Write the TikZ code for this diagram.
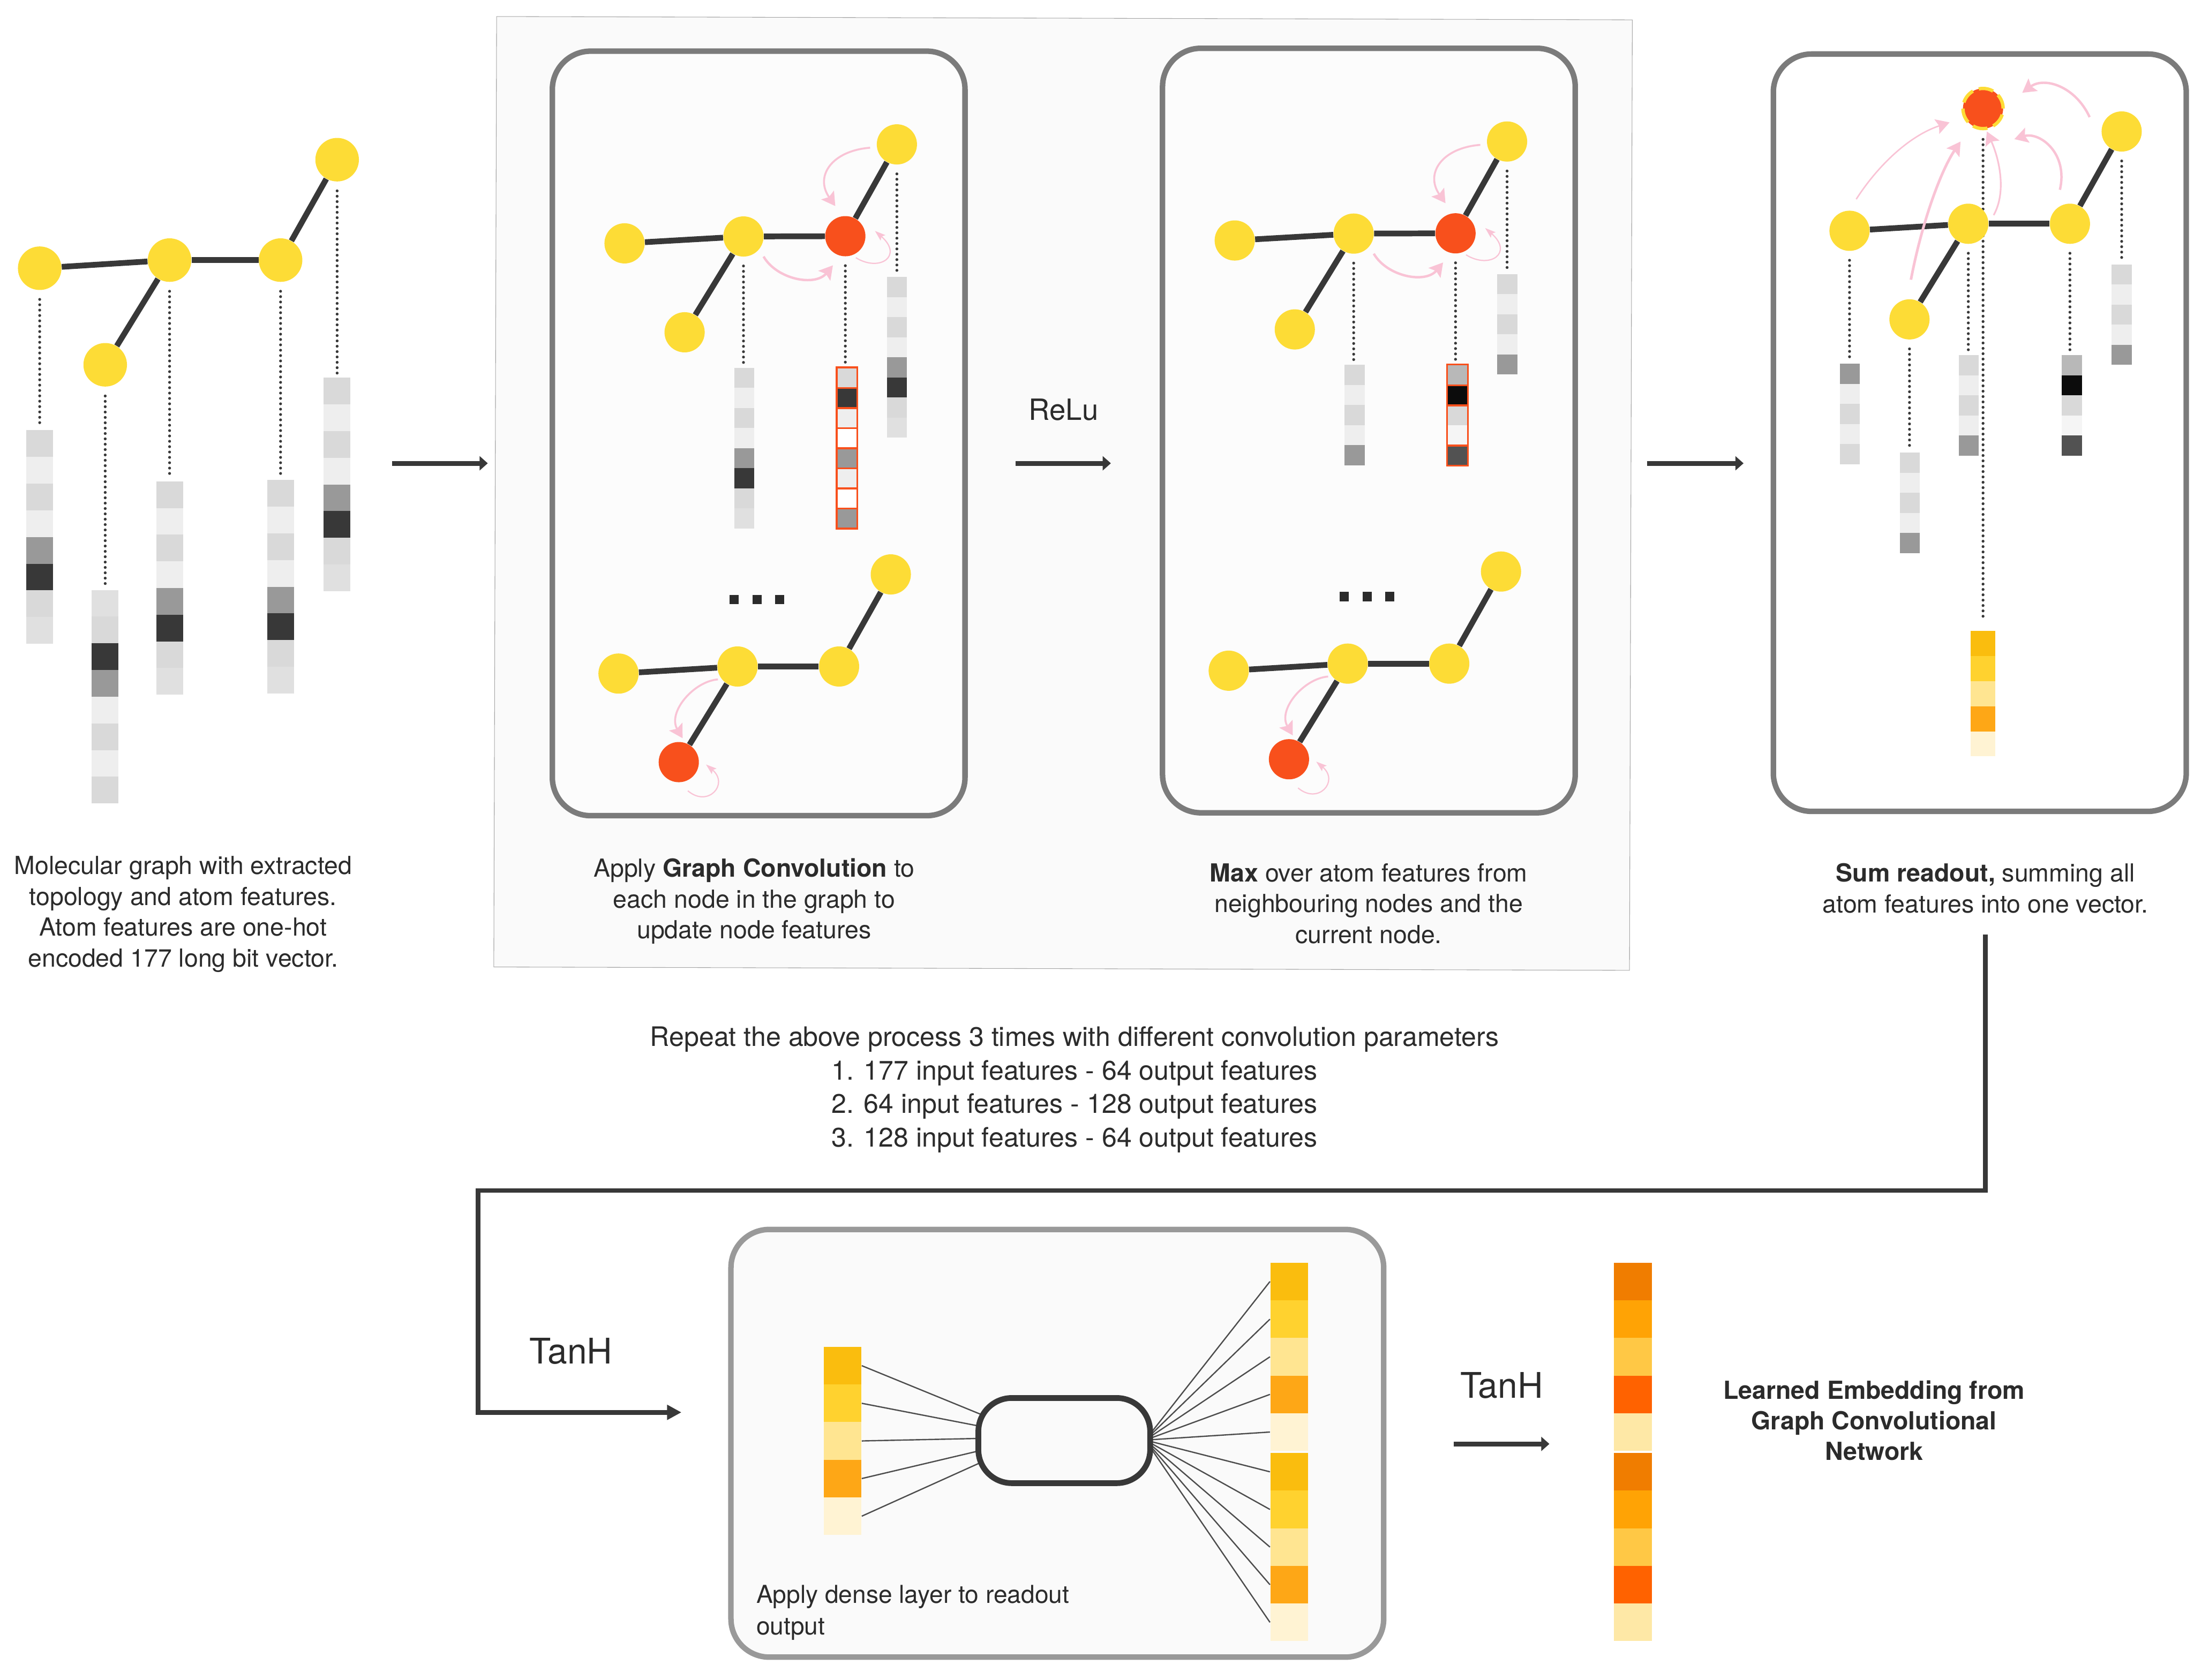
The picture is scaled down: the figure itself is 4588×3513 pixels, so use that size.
\documentclass[tikz,border=0pt]{standalone}
\usepackage{fontspec}
\setmainfont{TeX Gyre Heros}
\usetikzlibrary{arrows.meta,positioning,calc}
\definecolor{sunyellow}{HTML}{FDDC36}
\definecolor{hotred}{HTML}{F8501C}
\definecolor{bondgrey}{HTML}{383838}
\definecolor{inkgrey}{HTML}{2B2B2B}
\definecolor{linkpink}{HTML}{F9C3D5}
\definecolor{boxgrey}{HTML}{7B7B7B}
\definecolor{densegrey}{HTML}{999999}
\tikzset{
  atom/.style={circle, fill=#1, inner sep=0pt, minimum size=0.84cm},
  bond/.style={line width=0.12cm, draw=bondgrey},
  dots/.style={line width=0.06cm, draw=bondgrey, line cap=round, dash pattern=on 0pt off 0.112cm,
               shorten <=0.19cm, shorten >=0.06cm},
  msg/.style={draw=linkpink, line width=#1, -{Stealth[length=0.28cm,width=0.32cm,inset=0.05cm]}},
  msgthin/.style={draw=linkpink, line width=0.025cm, -{Stealth[length=0.22cm,width=0.15cm,inset=0.04cm]}},
  panelbox/.style={rectangle, rounded corners=0.8cm, draw=#1, line width=0.115cm, inner sep=0pt},
  arr/.style={-{Triangle[length=0.17cm,width=0.29cm]}, line width=0.1cm, draw=bondgrey},
  elbow/.style={-{Triangle[length=0.3cm,width=0.3cm]}, line width=0.1cm, draw=bondgrey},
  fanline/.style={line width=0.027cm, draw=bondgrey!90},
  redline/.style={line width=0.04cm, draw=hotred},
  note/.style={align=center, inner sep=0pt, text=inkgrey, font=\fontsize{14.8}{18.3}\selectfont},
  bigtxt/.style={inner sep=0pt, text=inkgrey, anchor=base, font=\fontsize{#1}{#1}\selectfont},
}
% one column of feature cells: name, x centre, y top, cell size, colour list
\newcommand{\featbar}[5]{
  \foreach \c [count=\i] in #5 {
    \definecolor{cellcol}{HTML}{\c}
    \node[rectangle, fill=cellcol, inner sep=0pt, minimum size=#4*0.01cm] (#1-\i) at (#2,{#3+(\i-0.5)*#4}) {};
  }
}
\newcommand{\longbar}{D9D9D9,EEEEEE,D9D9D9,EEEEEE,999999,383838,D9D9D9,E0E0E0}
\newcommand{\flipbar}{E0E0E0,D9D9D9,383838,999999,EEEEEE,D9D9D9,EEEEEE,D9D9D9}
\newcommand{\hotbar}{D9D9D9,383838,EEEEEE,FFFFFF,999999,EEEEEE,FFFFFF,999999}
\newcommand{\shortbar}{D9D9D9,EEEEEE,D9D9D9,EEEEEE,999999}
\newcommand{\hotshort}{B8B8B8,0C0C0C,D9D9D9,F5F5F5,525252}
\newcommand{\readbar}{999999,EEEEEE,D9D9D9,EEEEEE,D9D9D9}
\newcommand{\amberbar}{FABD0E,FFD22F,FFE591,FEA716,FFF3D3}
\newcommand{\embedbar}{F07D00,FFA305,FFC845,FF6200,FEE8A6}

\begin{document}
\begin{tikzpicture}[x=0.01cm,y=-0.01cm]
  \useasboundingbox (0,0) rectangle (4588,3513);

  % left: input graph
  \node[atom=sunyellow, minimum size=0.91cm] (a1) at (83,561) {};
  \node[atom=sunyellow, minimum size=0.91cm] (a2) at (220,763) {};
  \node[atom=sunyellow, minimum size=0.91cm] (a3) at (354.6,544) {};
  \node[atom=sunyellow, minimum size=0.91cm] (a4) at (586.7,544) {};
  \node[atom=sunyellow, minimum size=0.91cm] (a5) at (705,334) {};
  \draw[bond](a1)--(a3); \draw[bond](a2)--(a3); \draw[bond](a3)--(a4); \draw[bond](a4)--(a5);
  \featbar{abar1}{83}{900}{55.8}{\longbar}
  \featbar{abar2}{219.4}{1234}{55.8}{\flipbar}
  \featbar{abar3}{354.8}{1006.7}{55.8}{\longbar}
  \featbar{abar4}{586.5}{1004}{55.8}{\longbar}
  \featbar{abar5}{705}{790}{55.8}{\longbar}
  \foreach \p in {1,...,5} \draw[dots] (a\p) -- (a\p |- abar\p-1.north);
  \node[note] (capinput) at (383,1912) {Molecular graph with extracted\\topology and atom features.\\Atom features are one-hot\\encoded 177 long bit vector.};

  % grey sheet and the two convolution panels
  \node[rectangle, fill=black!2, draw=black!35, line width=0.012cm, inner sep=0pt, minimum width=2375*0.01cm,
        minimum height=1988*0.01cm, rotate=-0.17] (sheet) at (2223,1032) {};
  \coordinate (inA) at (820,969); \coordinate (inB) at (1020,969);
  \draw[arr](inA)--(inB);
  \foreach \g/\dx/\dy in {b/0/0,d/1276/-6} {
    \begin{scope}[shift={(\dx,\dy)}]
      \node[panelbox=boxgrey, fill=black!1, minimum width=863*0.01cm, minimum height=1599*0.01cm] (\g box) at (1586.5,906.5) {};
      \node[atom=sunyellow] (\g1) at (1306,509) {};
      \node[atom=sunyellow] (\g2) at (1554.7,494.6) {};
      \node[atom=hotred] (\g3) at (1767.7,494) {};
      \node[atom=sunyellow] (\g4) at (1875.5,302) {};
      \node[atom=sunyellow] (\g5) at (1431.6,695) {};
      \draw[bond](\g1)--(\g2); \draw[bond](\g2)--(\g3); \draw[bond](\g2)--(\g5); \draw[bond](\g3)--(\g4);
      \draw[msg=0.04cm] ($(\g4)+(-56,7)$) .. controls ($(\g4)+(-135,13)$) and ($(\g3)+(-65,-126)$) .. ($(\g3)+(-21,-63)$);
      \draw[msg=0.05cm] ($(\g2)+(42,42)$) .. controls ($(\g2)+(70,90)$) and ($(\g3)+(-63,106)$) .. ($(\g3)+(-26,61)$);
      \draw[msgthin] ($(\g3)+(22,45)$) .. controls ($(\g3)+(72,76)$) and ($(\g3)+(122,41)$) .. ($(\g3)+(62,-11)$);
    \end{scope}
  }
  \foreach \g/\dx/\dy in {c/0/0,f/1276/-6} {
    \begin{scope}[shift={(\dx,\dy)}]
      \node[atom=sunyellow] (\g1) at (1293.4,1408.8) {};
      \node[atom=sunyellow] (\g2) at (1542.3,1394) {};
      \node[atom=sunyellow] (\g3) at (1754.6,1394) {};
      \node[atom=sunyellow] (\g4) at (1862.8,1201.4) {};
      \node[atom=hotred] (\g5) at (1419.4,1594) {};
      \draw[bond](\g1)--(\g2); \draw[bond](\g2)--(\g3); \draw[bond](\g2)--(\g5); \draw[bond](\g3)--(\g4);
      \draw[msg=0.04cm] ($(\g2)+(-41,27)$) .. controls ($(\g2)+(-92,31)$) and ($(\g5)+(-24,-104)$) .. ($(\g5)+(8,-50)$);
      \draw[msgthin] ($(\g5)+(19,60)$) .. controls ($(\g5)+(61,96)$) and ($(\g5)+(106,46)$) .. ($(\g5)+(57,5)$);
      \foreach \k/\xk in {1/1535,2/1583,3/1630.5}
        \node[rectangle, fill=inkgrey, inner sep=0pt, minimum width=0.19cm, minimum height=0.2cm] (\g dot\k) at (\xk,1254) {};
    \end{scope}
  }
  \featbar{bbar2}{1556.6}{769}{42}{\longbar}
  \featbar{bbar3}{1771}{769}{42}{\hotbar}
  \featbar{bbar4}{1875.5}{579.5}{42}{\longbar}
  \featbar{dbar2}{2832.5}{763}{42}{\shortbar}
  \featbar{dbar3}{3047.8}{763}{42}{\hotshort}
  \featbar{dbar4}{3151.7}{573}{42}{\shortbar}
  \draw[redline] (bbar3-1.north west) rectangle (bbar3-8.south east);
  \foreach \i in {1,...,7} \draw[redline] (bbar3-\i.south west) -- (bbar3-\i.south east);
  \draw[redline] (dbar3-1.north west) rectangle (dbar3-5.south east);
  \foreach \i in {1,2,4} \draw[redline] (dbar3-\i.south west) -- (dbar3-\i.south east);
  \foreach \g in {b,d} \foreach \p in {2,3,4} \draw[dots] (\g\p) -- (\g\p |- \g bar\p-1.north);
  \node[note] (capconv) at (1577,1885) {Apply \textbf{Graph Convolution} to\\each node in the graph to\\update node features};
  \node[note] (capmax) at (2862,1890) {\textbf{Max} over atom features from\\neighbouring nodes and the\\current node.};
  \node[bigtxt=17.4] (relu) at (2224,879) {ReLu};
  \coordinate (reluA) at (2124,969); \coordinate (reluB) at (2323,969);
  \draw[arr](reluA)--(reluB);
  \coordinate (sumA) at (3444,969); \coordinate (sumB) at (3646,969);
  \draw[arr](sumA)--(sumB);

  % sum readout panel
  \node[panelbox=boxgrey, fill=white, minimum width=863.5*0.01cm, minimum height=1584*0.01cm] (sumbox) at (4140,905) {};
  \node[atom=hotred, draw=sunyellow, line width=0.07cm, dash pattern=on 0.31cm off 0.13cm] (top) at (4146.8,227) {};
  \featbar{amber}{4146.5}{1320}{52.4}{\amberbar}
  \draw[dots, shorten >=0.23cm] (top) -- (top |- amber-1.north);
  \node[atom=sunyellow] (e1) at (3867.6,482.7) {};
  \node[atom=sunyellow] (e2) at (4116,468) {};
  \node[atom=sunyellow] (e3) at (4328.5,468) {};
  \node[atom=sunyellow] (e4) at (4436.7,275) {};
  \node[atom=sunyellow] (e5) at (3993,668) {};
  \draw[bond](e1)--(e2); \draw[bond](e2)--(e3); \draw[bond](e2)--(e5); \draw[bond](e3)--(e4);
  \featbar{ebar1}{3868}{761}{42}{\readbar}
  \featbar{ebar2}{4117}{743}{42}{\shortbar}
  \featbar{ebar3}{4332.5}{743}{42}{\hotshort}
  \featbar{ebar4}{4436.6}{553}{42}{\shortbar}
  \featbar{ebar5}{3993.5}{947}{42}{\shortbar}
  \foreach \p in {1,...,5} \draw[dots] (e\p) -- (e\p |- ebar\p-1.north);
  \draw[msg=0.03cm] ($(e1)+(14,-66)$) .. controls ($(e1)+(57,-133)$) and ($(top)+(-157,58)$) .. ($(top)+(-70,29)$);
  \draw[msg=0.055cm] ($(e5)+(3,-83)$) .. controls ($(e5)+(27,-208)$) and ($(top)+(-87,128)$) .. ($(top)+(-47,69)$);
  \draw[msg=0.035cm] ($(e2)+(53,-18)$) .. controls ($(e2)+(81,-68)$) and ($(top)+(33,103)$) .. ($(top)+(8,48)$);
  \draw[msg=0.05cm] ($(e3)+(-21,-71)$) .. controls ($(e3)+(-3,-148)$) and ($(top)+(118,48)$) .. ($(top)+(65.5,64)$);
  \draw[msg=0.05cm] ($(e4)+(-67,-30)$) .. controls ($(e4)+(-97,-95)$) and ($(top)+(128,-67)$) .. ($(top)+(82,-33)$);
  \node[note] (capsum) at (4152,1858) {\textbf{Sum readout,} summing all\\atom features into one vector.};

  \node[note, font=\fontsize{15.95}{19.9}\selectfont] (repeat) at (2247,2279) {Repeat the above process 3 times with different convolution parameters\\1. 177 input features - 64 output features\\2. 64 input features - 128 output features\\3. 128 input features - 64 output features};

  % dense layer
  \coordinate (elbowA) at (4152,1955); \coordinate (elbowB) at (1000,2490); \coordinate (elbowC) at (1425,2954);
  \draw[elbow] (elbowA) |- (elbowB) |- (elbowC);
  \node[bigtxt=21] (tanhA) at (1194,2852) {TanH};
  \node[panelbox=densegrey, fill=black!2, minimum width=1365*0.01cm, minimum height=894.5*0.01cm] (densebox) at (2211,3018.7) {};
  \featbar{inbar}{1762}{2817}{78.7}{\amberbar}
  \featbar{outbar}{2695.7}{2641}{78.7}{\amberbar}
  \featbar{outbarb}{2695.7}{3039}{78.7}{\amberbar}
  \coordinate (hubL) at (2168,3006); \coordinate (hubR) at (2395,3012);
  \foreach \i in {1,...,5} {
    \draw[fanline] (inbar-\i.east) -- (hubL);
    \draw[fanline] (outbar-\i.west) -- (hubR);
    \draw[fanline] (outbarb-\i.west) -- (hubR);
  }
  \node[rectangle, rounded corners=0.7cm, draw=bondgrey, fill=black!2, line width=0.12cm, minimum width=3.59cm, minimum height=1.78cm] (pill) at (2225.5,3013) {};
  \node[note, align=left, anchor=north west, font=\fontsize{14.7}{18.7}\selectfont] (capdense) at (1581,3315) {Apply dense layer to readout\\output};

  % output
  \coordinate (outA) at (3040,3020); \coordinate (outB) at (3240,3020);
  \draw[arr](outA)--(outB);
  \node[bigtxt=21] (tanhB) at (3140,2924) {TanH};
  \featbar{embed}{3414.5}{2641}{78.7}{\embedbar}
  \featbar{embedb}{3414.5}{3039}{78.7}{\embedbar}
  \node[note] (capembed) at (3919,2971) {\textbf{Learned Embedding from}\\\textbf{Graph Convolutional}\\\textbf{Network}};
\end{tikzpicture}
\end{document}
